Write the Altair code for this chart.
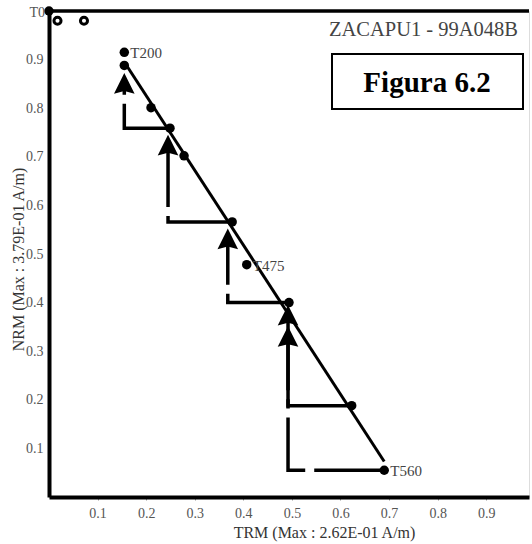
import altair as alt
import pandas as pd

# ---- data ----
trm = [0.0, 0.155, 0.155, 0.210, 0.249, 0.278, 0.377, 0.407, 0.494, 0.623, 0.690]
nrm = [1.0, 0.915, 0.888, 0.801, 0.759, 0.702, 0.566, 0.478, 0.400, 0.188, 0.055]
step_labels = ["T0", "T200", "", "", "", "", "", "T475", "", "", "T560"]

open_trm = [0.0175, 0.072]
open_nrm = [0.980, 0.980]

fit_trm = [0.155, 0.690]
fit_nrm = [0.895, 0.073]

# pTRM checks: start point (data step) and check value
chk_from_trm = [0.249, 0.377, 0.494, 0.623, 0.690]
chk_from_nrm = [0.759, 0.566, 0.400, 0.188, 0.055]
chk_trm = [0.155, 0.245, 0.368, 0.492, 0.492]
chk_nrm = [0.850, 0.723, 0.530, 0.373, 0.329]

ticks = [0.1, 0.2, 0.3, 0.4, 0.5, 0.6, 0.7, 0.8, 0.9]

SERIF = "Liberation Serif"

pts = pd.DataFrame({"x": trm, "y": nrm, "lab": step_labels})
opn = pd.DataFrame({"x": open_trm, "y": open_nrm})
fit = pd.DataFrame({"x": fit_trm, "y": fit_nrm})

rows = []
for i in range(len(chk_trm)):
    rows.append({"id": i, "o": 0, "x": chk_from_trm[i], "y": chk_from_nrm[i]})
    rows.append({"id": i, "o": 1, "x": chk_trm[i], "y": chk_from_nrm[i]})
    rows.append({"id": i, "o": 2, "x": chk_trm[i], "y": chk_nrm[i]})
chk_path = pd.DataFrame(rows)
chk_pts = pd.DataFrame({"x": chk_trm, "y": chk_nrm})

xscale = alt.Scale(domain=[0, 0.988], nice=False, zero=False)
yscale = alt.Scale(domain=[0, 1.0], nice=False, zero=False)

xaxis = alt.Axis(
    values=ticks, format=".1f", grid=False,
    domainColor="black", domainWidth=4,
    tickSize=3, tickColor="#999", tickWidth=1,
    labelFont=SERIF, labelFontSize=14, labelColor="#555", labelPadding=6,
    title="TRM (Max : 2.62E-01 A/m)", titleFont=SERIF, titleFontSize=16,
    titleFontWeight="normal", titleColor="#333",
    titleX=275, titleY=35, titleBaseline="middle",
)
yaxis = alt.Axis(
    values=ticks, format=".1f", grid=False,
    domainColor="black", domainWidth=4,
    tickSize=0, labelFont=SERIF, labelFontSize=14, labelColor="#555", labelPadding=6,
    title="NRM (Max : 3.79E-01 A/m)", titleFont=SERIF, titleFontSize=16,
    titleFontWeight="normal", titleColor="#333",
    titleX=-31, titleY=248, titleBaseline="middle",
)

X = alt.X("x:Q", scale=xscale, axis=xaxis)
Y = alt.Y("y:Q", scale=yscale, axis=yaxis)

top_line = alt.Chart(pd.DataFrame({"y": [1.0]})).mark_rule(
    color="black", strokeWidth=3.5
).encode(y=alt.Y("y:Q", scale=yscale, axis=yaxis))

check_lines = alt.Chart(chk_path).mark_line(
    color="black", strokeWidth=3.5, strokeDash=[70, 9], strokeCap="butt"
).encode(x=X, y=Y, detail="id:N", order="o:Q")

arrow = "M0,-1L0.95,0.9L0,0.65L-0.95,0.9Z"
check_marks = alt.Chart(chk_pts).mark_point(
    shape=arrow, filled=True, size=470, color="black", opacity=1
).encode(x=X, y=Y)

fit_line = alt.Chart(fit).mark_line(color="black", strokeWidth=3).encode(x=X, y=Y)

dots = alt.Chart(pts).mark_circle(size=90, color="black", opacity=1).encode(x=X, y=Y)

open_dots = alt.Chart(opn).mark_point(
    shape="circle", filled=False, size=50, strokeWidth=3, color="black", opacity=1
).encode(x=X, y=Y)

lab_right = alt.Chart(pts).transform_filter(
    "datum.lab != '' && datum.lab != 'T0'"
).mark_text(align="left", baseline="middle", dx=6, dy=1, font=SERIF,
            fontSize=15, color="#444").encode(x=X, y=Y, text="lab:N")

lab_left = alt.Chart(pts).transform_filter("datum.lab == 'T0'").mark_text(
    align="right", baseline="middle", dx=-4, dy=2, font=SERIF, fontSize=14, color="#555"
).encode(x=X, y=Y, text="lab:N")

sample = alt.Chart(pd.DataFrame({"t": ["ZACAPU1 - 99A048B"]})).mark_text(
    align="right", baseline="alphabetic", font=SERIF, fontSize=20.5, color="#444"
).encode(x=alt.value(469), y=alt.value(25), text="t:N")

box = alt.Chart(pd.DataFrame({"t": ["Figura 6.2"]})).mark_rect(
    fill="white", stroke="black", strokeWidth=2
).encode(x=alt.value(283), x2=alt.value(474), y=alt.value(43), y2=alt.value(98))

box_text = alt.Chart(pd.DataFrame({"t": ["Figura 6.2"]})).mark_text(
    align="center", baseline="alphabetic", font=SERIF, fontSize=29,
    fontWeight="bold", color="black"
).encode(x=alt.value(378), y=alt.value(81), text="t:N")

chart = alt.layer(
    top_line, check_lines, fit_line, check_marks, dots, open_dots,
    lab_right, lab_left, sample, box, box_text
).properties(
    width=480, height=486,
    autosize=alt.AutoSizeParams(type="none"),
    padding={"left": 49, "top": 11, "right": 3, "bottom": 47},
).configure_view(stroke="black", strokeWidth=2).configure(background="white")

chart.save("out.html", embed_options={"renderer": "svg", "actions": False})
